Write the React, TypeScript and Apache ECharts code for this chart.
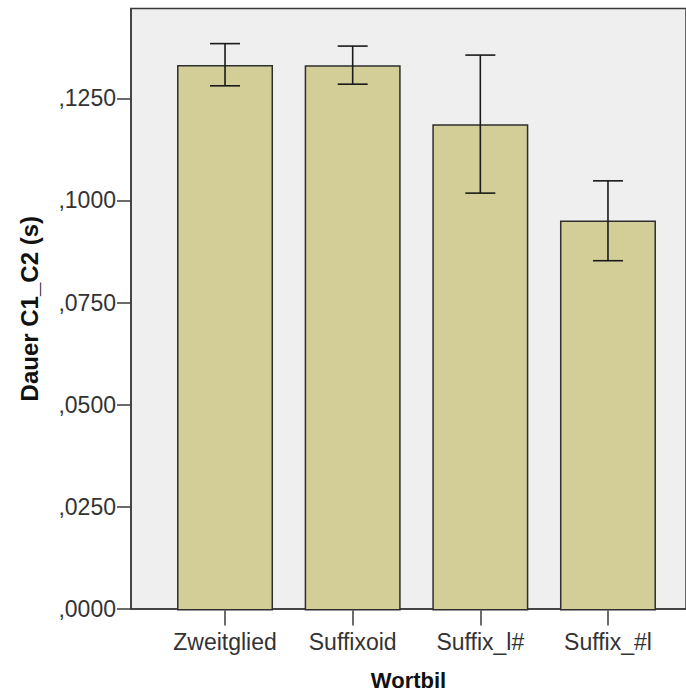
import React, { useEffect, useRef } from "react";
import * as echarts from "echarts";

// Mean duration per word-formation type with 95% confidence intervals
const categories = ["Zweitglied", "Suffixoid", "Suffix_l#", "Suffix_#l"];
const means = [0.1332, 0.1331, 0.1187, 0.0952];
const ciLow = [0.1281, 0.1285, 0.1019, 0.0854];
const ciHigh = [0.1384, 0.1378, 0.1356, 0.1049];
const yTicks = [0, 0.025, 0.05, 0.075, 0.1, 0.125];
const yMax = 0.147;

const FONT = "'Liberation Sans', Arial, sans-serif";
const fmt = (v: number) => "," + v.toFixed(4).split(".")[1];

export default function App() {
  const ref = useRef<HTMLDivElement>(null);

  useEffect(() => {
    if (!ref.current) return;
    const chart = echarts.init(ref.current, null, { renderer: "svg" });

    const errorData = categories.map((_, i) => [i, ciLow[i], ciHigh[i]]);

    chart.setOption({
      animation: false,
      backgroundColor: "#ffffff",
      grid: [
        {
          // frame with grey plot background
          left: 131,
          right: -16,
          top: 8.4,
          bottom: 85.5,
          show: true,
          backgroundColor: "#efefef",
          borderColor: "#3a3a3a",
          borderWidth: 1.5,
        },
        {
          // grid carrying the bars
          left: 161.2,
          right: 14.2,
          top: 8.4,
          bottom: 85.5,
        },
      ],
      xAxis: [
        {
          gridIndex: 0,
          type: "value",
          min: 0,
          max: 1,
          name: "Wortbil",
          nameLocation: "middle",
          nameGap: 60,
          nameTextStyle: {
            fontFamily: FONT,
            fontWeight: "bold",
            fontSize: 22,
            color: "#111",
          },
          axisLine: { show: true, lineStyle: { color: "#3a3a3a", width: 1.5 } },
          axisTick: { show: false },
          axisLabel: { show: false },
          splitLine: { show: false },
        },
        {
          gridIndex: 1,
          type: "category",
          data: categories,
          axisLine: { show: false },
          axisTick: {
            show: true,
            alignWithLabel: true,
            length: 15,
            lineStyle: { color: "#3a3a3a", width: 1.5 },
          },
          axisLabel: {
            interval: 0,
            hideOverlap: false,
            margin: 20,
            fontFamily: FONT,
            fontSize: 23,
            color: "#333",
          },
          splitLine: { show: false },
        },
      ],
      yAxis: [
        {
          gridIndex: 0,
          type: "value",
          min: 0,
          max: yMax,
          name: "Dauer C1_C2 (s)",
          nameLocation: "middle",
          nameGap: 90,
          nameTextStyle: {
            fontFamily: FONT,
            fontWeight: "bold",
            fontSize: 24,
            color: "#111",
          },
          axisLine: { show: true, lineStyle: { color: "#3a3a3a", width: 1.5 } },
          axisTick: {
            show: true,
            length: 14,
            customValues: yTicks,
            lineStyle: { color: "#3a3a3a", width: 1.5 },
          },
          axisLabel: {
            margin: 15,
            customValues: yTicks,
            formatter: (v: number) => fmt(v),
            fontFamily: FONT,
            fontSize: 23,
            color: "#333",
            padding: [7, 0, 0, 0],
          },
          splitLine: { show: false },
        },
        {
          gridIndex: 1,
          type: "value",
          min: 0,
          max: yMax,
          show: false,
          splitLine: { show: false },
        },
      ],
      series: [
        {
          type: "bar",
          xAxisIndex: 1,
          yAxisIndex: 1,
          data: means,
          barWidth: 96,
          itemStyle: {
            color: "#d3ce98",
            borderColor: "#2e2e2e",
            borderWidth: 1.5,
          },
          z: 2,
        },
        {
          type: "custom",
          xAxisIndex: 1,
          yAxisIndex: 1,
          data: errorData,
          z: 3,
          renderItem: (params: any, api: any) => {
            const idx = api.value(0);
            const lo = api.coord([idx, api.value(1)]);
            const hi = api.coord([idx, api.value(2)]);
            const half = 15;
            const style = { stroke: "#1a1a1a", lineWidth: 1.6 };
            return {
              type: "group",
              children: [
                { type: "line", shape: { x1: hi[0], y1: hi[1], x2: lo[0], y2: lo[1] }, style },
                { type: "line", shape: { x1: hi[0] - half, y1: hi[1], x2: hi[0] + half, y2: hi[1] }, style },
                { type: "line", shape: { x1: lo[0] - half, y1: lo[1], x2: lo[0] + half, y2: lo[1] }, style },
              ],
            };
          },
        },
      ],
    });

    return () => chart.dispose();
  }, []);

  return (
    <div
      ref={ref}
      style={{ position: "absolute", left: 0, top: 0, width: 686, height: 696 }}
    />
  );
}
